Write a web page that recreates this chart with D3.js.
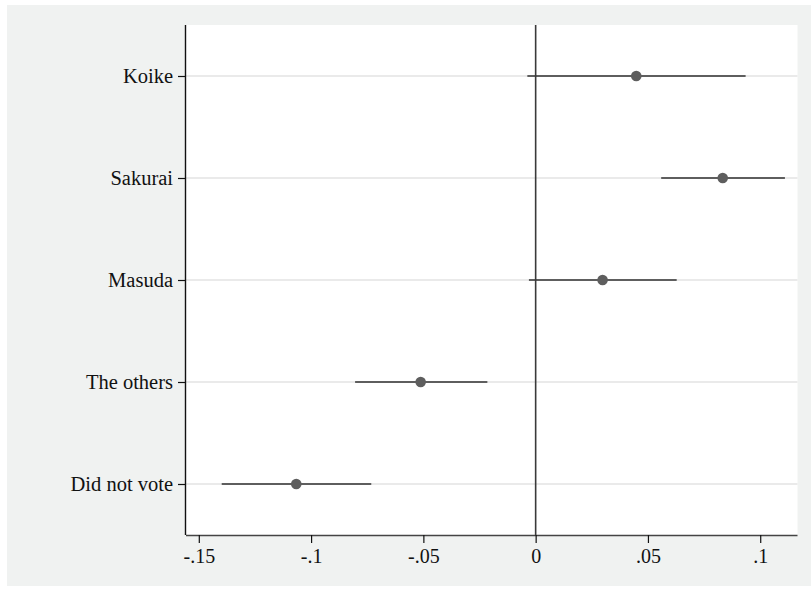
<!DOCTYPE html>
<html><head><meta charset="utf-8">
<script src="https://cdn.jsdelivr.net/npm/d3@7"></script>
<style>body{margin:0;background:#fff}svg{display:block}</style>
</head><body>
<svg id="c" width="811" height="593"></svg>
<script>
const categories = ["Koike", "Sakurai", "Masuda", "The others", "Did not vote"];
const estimates = [0.0448, 0.0833, 0.0298, -0.0512, -0.1066];
const lower = [-0.0037, 0.0559, -0.0030, -0.0804, -0.1398];
const upper = [0.0935, 0.1110, 0.0628, -0.0215, -0.0732];
const xTicks = [-0.15, -0.1, -0.05, 0, 0.05, 0.1];
const xTickLabels = ["-.15", "-.1", "-.05", "0", ".05", ".1"];

const svg = d3.select("#c");
const font = "'Liberation Serif', 'DejaVu Serif', serif";
const plot = {left: 186, right: 797.5, top: 25, bottom: 535};

svg.append("rect").attr("x", 7).attr("y", 5).attr("width", 804).attr("height", 581).attr("fill", "#f0f2f1");
svg.append("rect").attr("x", plot.left).attr("y", plot.top)
  .attr("width", plot.right - plot.left).attr("height", plot.bottom - plot.top).attr("fill", "#fff");

const x = d3.scaleLinear().domain([-0.1557, 0.1166]).range([plot.left, plot.right]);
const y = d3.scaleLinear().domain([-0.5, 4.5]).range([plot.top, plot.bottom]);
const idx = categories.map((d, i) => i);

// gridlines
svg.append("g").selectAll("line").data(idx).join("line")
  .attr("x1", plot.left).attr("x2", plot.right)
  .attr("y1", i => y(i)).attr("y2", i => y(i))
  .attr("stroke", "#eaeaea").attr("stroke-width", 1.8);

// CIs
svg.append("g").selectAll("line").data(idx).join("line")
  .attr("x1", i => x(lower[i])).attr("x2", i => x(upper[i]))
  .attr("y1", i => y(i)).attr("y2", i => y(i))
  .attr("stroke", "#5e5e5e").attr("stroke-width", 1.8);

// zero line
svg.append("line").attr("x1", x(0)).attr("x2", x(0)).attr("y1", plot.top).attr("y2", plot.bottom)
  .attr("stroke", "#3a3a3a").attr("stroke-width", 1.6);

// points
svg.append("g").selectAll("circle").data(idx).join("circle")
  .attr("cx", i => x(estimates[i])).attr("cy", i => y(i)).attr("r", 5.3)
  .attr("fill", "#5e5e5e");

// x axis
const xAxis = d3.axisBottom(x).tickValues(xTicks).tickFormat((d, i) => xTickLabels[i]).tickSize(8).tickPadding(6);
const gx = svg.append("g").attr("transform", `translate(0,${plot.bottom})`).call(xAxis);
gx.select(".domain").attr("d", `M${plot.left},0.5H${plot.right}`).attr("stroke", "#444").attr("stroke-width", 1.4);
gx.selectAll(".tick line").attr("stroke", "#111").attr("stroke-width", 1.2);
gx.selectAll(".tick text").attr("font-family", font).attr("font-size", 20).attr("fill", "#111");

// y axis
const yAxis = d3.axisLeft(y).tickValues(idx).tickFormat(i => categories[i]).tickSize(8).tickPadding(5);
const gy = svg.append("g").attr("transform", `translate(${plot.left},0)`).call(yAxis);
gy.select(".domain").attr("d", `M-0.5,${plot.top}V${plot.bottom}`).attr("stroke", "#111").attr("stroke-width", 1.4);
gy.selectAll(".tick line").attr("stroke", "#111").attr("stroke-width", 1.2);
gy.selectAll(".tick text").attr("font-family", font).attr("font-size", 20.5).attr("fill", "#111");
</script>
</body></html>
